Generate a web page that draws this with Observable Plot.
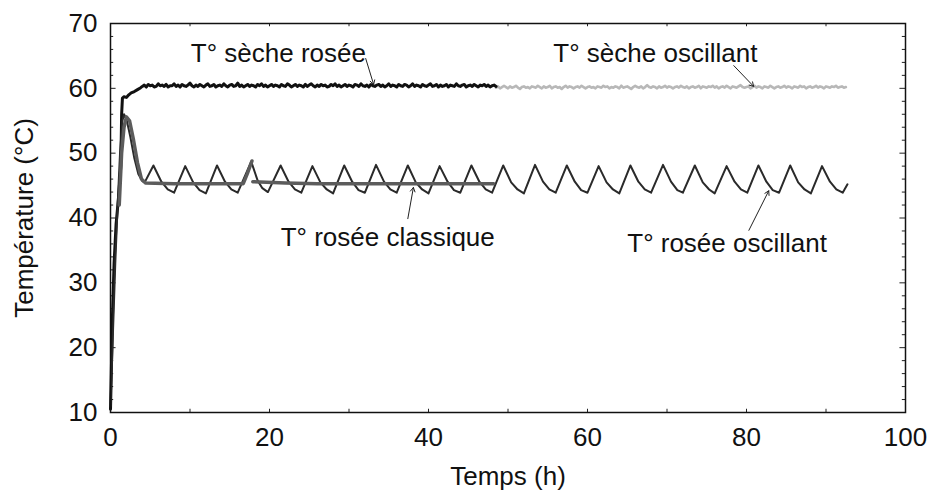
<!DOCTYPE html>
<html>
<head>
<meta charset="utf-8">
<script src="https://cdn.jsdelivr.net/npm/d3@7"></script>
<script src="https://cdn.jsdelivr.net/npm/@observablehq/plot@0.6"></script>
<style>
  html, body { margin: 0; padding: 0; background: white; }
  #chart { width: 928px; height: 501px; }
</style>
</head>
<body>
<div id="chart"></div>
<script>
// ---------- Axis ticks ----------
const xTickLabels = [0, 20, 40, 60, 80, 100];
const xMinorTicks = [10, 20, 30, 40, 50, 60, 70, 80, 90];
const yTickLabels = [10, 20, 30, 40, 50, 60, 70];
const yMajorTicks = [20, 30, 40, 50, 60];
const yMinorTicks = [12, 14, 16, 18, 22, 24, 26, 28, 32, 34, 36, 38, 42, 44, 46, 48, 52, 54, 56, 58, 62, 64, 66, 68];
const xTitle = "Temps (h)";
const yTitle = "Température (°C)";

// ---------- T° sèche rosée (black, noisy) ----------
const secheRoseeRiseT = [0, 0.1, 0.25, 0.45, 0.7, 1.0, 1.3, 1.4, 1.5, 1.7, 2.0, 2.3, 2.6, 3.0, 3.4, 3.8];
const secheRoseeRiseV = [10.5, 16, 25, 33, 39, 43, 48, 56, 58.5, 58.7, 58.6, 59.0, 59.3, 59.5, 59.8, 60.1];
const secheRoseeStart = 4.0, secheRoseeStep = 0.25;
const secheRoseeV = [
  60.3, 60.5, 60.2, 60.6, 60.4, 60.5, 60.2, 60.3, 60.7, 60.4,
  60.5, 60.3, 60.6, 60.2, 60.4, 60.4, 60.7, 60.3, 60.5, 60.2,
  60.6, 60.4, 60.3, 60.5, 60.8, 60.4, 60.2, 60.5, 60.3, 60.6,
  60.4, 60.2, 60.5, 60.7, 60.3, 60.4, 60.6, 60.2, 60.4, 60.5,
  60.3, 60.7, 60.4, 60.2, 60.5, 60.6, 60.3, 60.4, 60.8, 60.3,
  60.5, 60.2, 60.4, 60.6, 60.3, 60.5, 60.4, 60.2, 60.6, 60.4,
  60.7, 60.3, 60.5, 60.2, 60.4, 60.6, 60.3, 60.5, 60.4, 60.2,
  60.6, 60.4, 60.3, 60.7, 60.5, 60.2, 60.4, 60.6, 60.3, 60.5,
  60.4, 60.2, 60.6, 60.3, 60.5, 60.7, 60.4, 60.2, 60.5, 60.3,
  60.6, 60.4, 60.5, 60.2, 60.3, 60.6, 60.4, 60.7, 60.3, 60.5,
  60.2, 60.4, 60.6, 60.3, 60.5, 60.4, 60.2, 60.6, 60.5, 60.3,
  60.7, 60.4, 60.3, 60.5, 60.2, 60.6, 60.4, 60.3, 60.5, 60.6,
  60.3, 60.5, 60.2, 60.4, 60.7, 60.3, 60.5, 60.4, 60.2, 60.6,
  60.4, 60.3, 60.6, 60.5, 60.2, 60.4, 60.7, 60.3, 60.5, 60.4,
  60.2, 60.6, 60.4, 60.3, 60.5, 60.7, 60.3, 60.4, 60.6, 60.2,
  60.5, 60.3, 60.4, 60.6, 60.2, 60.5, 60.4, 60.3, 60.7, 60.4,
  60.3, 60.5, 60.6, 60.2, 60.4, 60.5, 60.3, 60.6, 60.4, 60.2,
  60.5, 60.4, 60.6, 60.3, 60.5, 60.2, 60.4, 60.5, 60.3
];

// ---------- T° sèche oscillant (light grey, noisy) ----------
const secheOscStart = 48.5, secheOscStep = 0.25;
const secheOscV = [
  60.1, 60.3, 60.0, 60.2, 60.4, 60.2, 60.0, 60.3, 60.1, 60.2,
  60.4, 60.1, 59.9, 60.2, 60.3, 60.1, 60.2, 60.0, 60.3, 60.2,
  60.1, 60.4, 60.2, 60.0, 60.3, 60.1, 60.2, 60.4, 60.0, 60.2,
  60.3, 60.1, 60.2, 59.9, 60.2, 60.4, 60.1, 60.3, 60.2, 60.0,
  60.2, 60.3, 60.1, 60.4, 60.2, 60.0, 60.2, 60.3, 60.1, 60.2,
  60.0, 60.3, 60.2, 60.1, 60.4, 60.2, 60.3, 60.0, 60.2, 60.1,
  60.3, 60.2, 60.0, 60.4, 60.1, 60.2, 60.3, 60.1, 59.9, 60.2,
  60.4, 60.2, 60.1, 60.3, 60.0, 60.2, 60.5, 60.2, 60.1, 60.3,
  60.2, 60.0, 60.3, 60.1, 60.2, 60.4, 60.1, 60.3, 60.2, 60.0,
  60.2, 60.3, 60.1, 60.4, 60.2, 60.1, 60.3, 60.0, 60.2, 60.3,
  60.1, 60.2, 60.4, 60.0, 60.3, 60.2, 60.1, 60.3, 60.2, 60.4,
  60.1, 60.3, 60.0, 60.2, 60.3, 60.1, 60.4, 60.2, 60.0, 60.3,
  60.2, 60.1, 60.3, 60.5, 60.2, 60.1, 60.2, 60.3, 60.0, 60.2,
  60.4, 60.1, 60.3, 60.2, 60.0, 60.3, 60.2, 60.1, 60.4, 60.2,
  60.0, 60.2, 60.3, 60.1, 60.2, 60.4, 60.1, 60.3, 60.2, 60.0,
  60.3, 60.2, 60.1, 60.4, 60.2, 60.3, 60.0, 60.2, 60.3, 60.1,
  60.2, 60.4, 60.1, 60.3, 60.2, 60.0, 60.3, 60.2, 60.1, 60.3,
  60.2, 60.4, 60.1, 60.2, 60.3, 60.1, 60.2
];

// ---------- T° rosée oscillant (dark, thin sawtooth) ----------
const roseeOscT = [
  0, 0.3, 0.6, 0.9, 1.2, 1.5, 1.7, 2.0, 2.5, 3.0, 3.5, 4.0, 4.3,
  5.4, 6.4, 7.2, 8.0,
  9.4, 10.4, 11.2, 12.0,
  13.4, 14.4, 15.2, 16.0,
  17.7, 18.5, 19.1, 19.8,
  21.4, 22.4, 23.2, 24.0,
  25.4, 26.4, 27.2, 28.0,
  29.4, 30.4, 31.2, 32.0,
  33.4, 34.4, 35.2, 36.0,
  37.4, 38.4, 39.2, 40.0,
  41.4, 42.4, 43.2, 44.0,
  45.4, 46.4, 47.2, 48.0,
  49.4, 50.4, 51.2, 52.0,
  53.4, 54.4, 55.2, 56.0,
  57.4, 58.4, 59.2, 60.0,
  61.4, 62.4, 63.2, 64.0,
  65.4, 66.4, 67.2, 68.0,
  69.5, 70.5, 71.3, 72.0,
  73.5, 74.5, 75.3, 76.0,
  77.5, 78.5, 79.3, 80.1,
  81.5, 82.5, 83.3, 84.1,
  85.5, 86.5, 87.3, 88.1,
  89.5, 90.5, 91.3, 92.1, 92.7
];
const roseeOscV = [
  11, 22, 33, 42, 50, 55, 56.0, 55.3, 52.5, 49.2, 46.8, 45.7, 45.5,
  48.1, 45.6, 44.4, 43.9,
  48.0, 45.5, 44.3, 43.8,
  48.1, 45.6, 44.4, 43.9,
  48.7, 45.8, 44.6, 44.0,
  48.1, 45.6, 44.4, 43.9,
  48.0, 45.5, 44.4, 43.8,
  48.1, 45.6, 44.3, 43.9,
  48.2, 45.6, 44.4, 43.9,
  48.1, 45.5, 44.4, 43.8,
  48.0, 45.6, 44.3, 43.9,
  48.1, 45.6, 44.4, 43.9,
  48.1, 45.5, 44.4, 43.8,
  48.2, 45.6, 44.4, 43.9,
  48.1, 45.6, 44.3, 43.9,
  48.0, 45.5, 44.4, 43.8,
  48.1, 45.6, 44.4, 43.9,
  48.2, 45.6, 44.3, 43.9,
  48.1, 45.5, 44.4, 43.8,
  48.0, 45.6, 44.4, 43.9,
  48.1, 45.6, 44.3, 43.9,
  48.1, 45.5, 44.4, 43.8,
  48.0, 45.6, 44.4, 43.9, 45.2
];

// ---------- T° rosée classique (thick grey) ----------
const roseeClassT = [1.1, 1.4, 1.7, 2.0, 2.4, 2.9, 3.4, 3.9, 4.4, 8, 12, 16.7, 17.2, 17.8,
                     17.9, 22, 26, 30, 34, 38, 42, 46, 48.2];
const roseeClassV = [42, 50, 54, 55.6, 55.0, 52.0, 48.5, 46.0, 45.4, 45.3, 45.3, 45.3, 46.8, 48.8,
                     45.6, 45.4, 45.3, 45.3, 45.3, 45.3, 45.3, 45.3, 45.3];
const roseeClassSeg = [1,1,1,1,1,1,1,1,1,1,1,1,1,1, 2,2,2,2,2,2,2,2,2];

// ---------- Annotations ----------
const annLabels = ["T° sèche rosée", "T° sèche oscillant", "T° rosée classique", "T° rosée oscillant"];
const annTextX = [10.1, 55.7, 21.4, 65.0];
const annTextY = [65.4, 65.4, 37.0, 36.1];
const annArrowX1 = [32.1, 78.4, 37.4, 80.3];
const annArrowY1 = [64.6, 63.5, 39.9, 38.1];
const annArrowX2 = [33.1, 80.9, 38.1, 82.8];
const annArrowY2 = [60.6, 60.3, 44.7, 44.2];

// ---------- Build tables ----------
const secheRosee = [
  ...secheRoseeRiseT.map((t, i) => ({t, v: secheRoseeRiseV[i]})),
  ...secheRoseeV.map((v, i) => ({t: secheRoseeStart + i * secheRoseeStep, v}))
];
const secheOsc = secheOscV.map((v, i) => ({t: secheOscStart + i * secheOscStep, v}));
const roseeOsc = roseeOscT.map((t, i) => ({t, v: roseeOscV[i]}));
const roseeClass = roseeClassT.map((t, i) => ({t, v: roseeClassV[i], s: roseeClassSeg[i]}));
const ann = annLabels.map((label, i) => ({
  label, tx: annTextX[i], ty: annTextY[i],
  x1: annArrowX1[i], y1: annArrowY1[i], x2: annArrowX2[i], y2: annArrowY2[i]
}));

const FONT = "'Liberation Sans', Arial, Helvetica, sans-serif";

const chart = Plot.plot({
  width: 928,
  height: 501,
  marginLeft: 110,
  marginRight: 23,
  marginTop: 23,
  marginBottom: 89,
  x: {domain: [0, 100]},
  y: {domain: [10, 70]},
  style: {fontFamily: FONT, fontSize: "26px", background: "white", color: "black", overflow: "visible"},
  marks: [
    Plot.axisX(xTickLabels, {tickSize: 0, tickPadding: 15, label: null, fontSize: 26, fill: "#111"}),
    Plot.axisY(yTickLabels, {tickSize: 0, tickPadding: 13, label: null, fontSize: 26, fill: "#111"}),
    // inside ticks
    Plot.ruleX(xMinorTicks, {x: d => d, y1: 10, y2: 10.5, stroke: "#222", strokeWidth: 1}),
    Plot.ruleX(xMinorTicks, {x: d => d, y1: 70, y2: 69.5, stroke: "#222", strokeWidth: 1}),
    Plot.ruleY(yMinorTicks, {y: d => d, x1: 0, x2: 0.4, stroke: "#222", strokeWidth: 1}),
    Plot.ruleY(yMajorTicks, {y: d => d, x1: 0, x2: 0.7, stroke: "#222", strokeWidth: 1}),
    Plot.ruleY(yMinorTicks, {y: d => d, x1: 100, x2: 99.6, stroke: "#222", strokeWidth: 1}),
    Plot.ruleY(yMajorTicks, {y: d => d, x1: 100, x2: 99.3, stroke: "#222", strokeWidth: 1}),
    // series
    Plot.line(secheOsc, {x: "t", y: "v", stroke: "#b8b8b8", strokeWidth: 2.6}),
    Plot.line(secheRosee, {x: "t", y: "v", stroke: "#111", strokeWidth: 3}),
    Plot.line(roseeOsc, {x: "t", y: "v", stroke: "#2a2a2a", strokeWidth: 2}),
    Plot.line(roseeClass, {x: "t", y: "v", z: "s", stroke: "#5c5c5c", strokeWidth: 3.5}),
    // annotations
    Plot.arrow(ann, {x1: "x1", y1: "y1", x2: "x2", y2: "y2", stroke: "#222", strokeWidth: 1, headLength: 7}),
    Plot.text(ann, {x: "tx", y: "ty", text: "label", textAnchor: "start", fontSize: 26, fill: "#111"}),
    // axis titles
    Plot.text([xTitle], {text: d => d, frameAnchor: "bottom", dy: 72, fontSize: 26, fill: "#111"}),
    Plot.text([yTitle], {text: d => d, frameAnchor: "left", textAnchor: "middle", dx: -86, rotate: -90, fontSize: 26, fill: "#111"}),
    Plot.frame({stroke: "#111", strokeWidth: 1.5})
  ]
});
document.getElementById("chart").appendChild(chart);
</script>
</body>
</html>
